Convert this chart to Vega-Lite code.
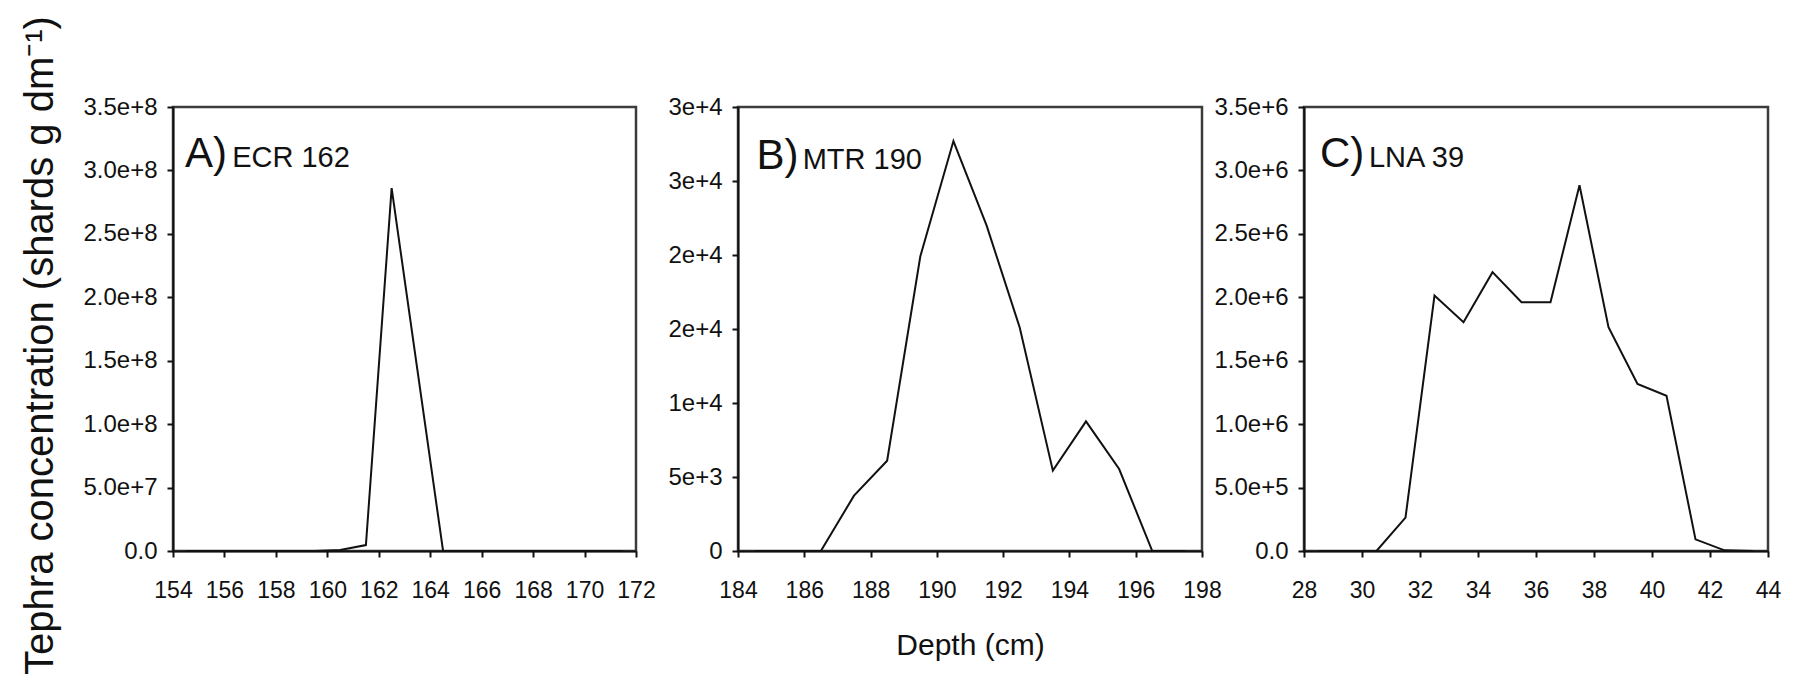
{
  "$schema": "https://vega.github.io/schema/vega-lite/v6.json",
  "background": "white",
  "padding": {"left": 18, "top": 14, "right": 6, "bottom": 4},
  "bounds": "flush",
  "spacing": 102,
  "config": {
    "font": "Liberation Sans, Arial, sans-serif",
    "view": {"stroke": "#3c3c3c", "strokeWidth": 2.5},
    "axis": {
      "grid": false,
      "domainColor": "#111111",
      "domainWidth": 2,
      "tickColor": "#111111",
      "tickWidth": 2,
      "tickSize": 6,
      "labelFont": "Liberation Sans, Arial, sans-serif",
      "labelColor": "#111111",
      "labelFlush": false,
      "labelOverlap": false,
      "titleFont": "Liberation Sans, Arial, sans-serif",
      "titleColor": "#111111",
      "titleFontWeight": "normal"
    },
    "axisX": {"labelPadding": 22, "labelFontSize": 23},
    "axisY": {"labelPadding": 10, "labelFontSize": 24}
  },
  "hconcat": [
    {
      "width": 463,
      "height": 444,
      "data": {"values": [
        {"depth": 154.5, "conc": 0}, {"depth": 155.5, "conc": 0}, {"depth": 156.5, "conc": 0},
        {"depth": 157.5, "conc": 0}, {"depth": 158.5, "conc": 0}, {"depth": 159.5, "conc": 0},
        {"depth": 160.5, "conc": 800000}, {"depth": 161.5, "conc": 4700000},
        {"depth": 162.5, "conc": 286000000}, {"depth": 163.5, "conc": 143000000},
        {"depth": 164.5, "conc": 0}, {"depth": 165.5, "conc": 0}, {"depth": 166.5, "conc": 0},
        {"depth": 167.5, "conc": 0}, {"depth": 168.5, "conc": 0}, {"depth": 169.5, "conc": 0},
        {"depth": 170.5, "conc": 0}, {"depth": 171.5, "conc": 0}
      ]},
      "layer": [
        {
          "mark": {"type": "line", "color": "#111111", "strokeWidth": 2},
          "encoding": {
            "x": {"field": "depth", "type": "quantitative",
                  "scale": {"domain": [154, 172], "nice": false, "zero": false},
                  "axis": {"title": null, "values": [154, 156, 158, 160, 162, 164, 166, 168, 170, 172]}},
            "y": {"field": "conc", "type": "quantitative",
                  "scale": {"domain": [0, 350000000], "nice": false},
                  "axis": {
                    "values": [0, 50000000, 100000000, 150000000, 200000000, 250000000, 300000000, 350000000],
                    "labelExpr": "datum.value === 0 ? '0.0' : format(datum.value, '.1e')",
                    "title": "Tephra concentration (shards g dm⁻¹)",
                    "titleFontSize": 40,
                    "titleAngle": -90,
                    "titleAlign": "center",
                    "titleBaseline": "alphabetic",
                    "titleX": -121,
                    "titleY": 238
                  }}
          }
        },
        {
          "data": {"values": [{"t": "A)"}]},
          "mark": {"type": "text", "align": "left", "baseline": "alphabetic", "fontSize": 42, "color": "#111111"},
          "encoding": {"x": {"datum": 154.47, "type": "quantitative"}, "y": {"datum": 303000000, "type": "quantitative"}, "text": {"field": "t"}}
        },
        {
          "data": {"values": [{"t": "ECR 162"}]},
          "mark": {"type": "text", "align": "left", "baseline": "alphabetic", "fontSize": 29, "color": "#111111"},
          "encoding": {"x": {"datum": 156.3, "type": "quantitative"}, "y": {"datum": 303000000, "type": "quantitative"}, "text": {"field": "t"}}
        }
      ]
    },
    {
      "width": 464,
      "height": 444,
      "data": {"values": [
        {"depth": 184.5, "conc": 0}, {"depth": 185.5, "conc": 0}, {"depth": 186.5, "conc": 0},
        {"depth": 187.5, "conc": 3740}, {"depth": 188.5, "conc": 6100}, {"depth": 189.5, "conc": 19900},
        {"depth": 190.5, "conc": 27700}, {"depth": 191.5, "conc": 22000}, {"depth": 192.5, "conc": 15100},
        {"depth": 193.5, "conc": 5430}, {"depth": 194.5, "conc": 8760}, {"depth": 195.5, "conc": 5540},
        {"depth": 196.5, "conc": 0}, {"depth": 197.5, "conc": 0}
      ]},
      "layer": [
        {
          "mark": {"type": "line", "color": "#111111", "strokeWidth": 2},
          "encoding": {
            "x": {"field": "depth", "type": "quantitative",
                  "scale": {"domain": [184, 198], "nice": false, "zero": false},
                  "axis": {"title": "Depth (cm)", "titleFontSize": 30, "titlePadding": 28,
                           "values": [184, 186, 188, 190, 192, 194, 196, 198]}},
            "y": {"field": "conc", "type": "quantitative",
                  "scale": {"domain": [0, 30000], "nice": false},
                  "axis": {
                    "title": null,
                    "values": [0, 5000, 10000, 15000, 20000, 25000, 30000],
                    "labelExpr": "datum.value === 0 ? '0' : format(datum.value, '.0e')"
                  }}
          }
        },
        {
          "data": {"values": [{"t": "B)"}]},
          "mark": {"type": "text", "align": "left", "baseline": "alphabetic", "fontSize": 42, "color": "#111111"},
          "encoding": {"x": {"datum": 184.56, "type": "quantitative"}, "y": {"datum": 25800, "type": "quantitative"}, "text": {"field": "t"}}
        },
        {
          "data": {"values": [{"t": "MTR 190"}]},
          "mark": {"type": "text", "align": "left", "baseline": "alphabetic", "fontSize": 29, "color": "#111111"},
          "encoding": {"x": {"datum": 185.95, "type": "quantitative"}, "y": {"datum": 25800, "type": "quantitative"}, "text": {"field": "t"}}
        }
      ]
    },
    {
      "width": 464,
      "height": 444,
      "data": {"values": [
        {"depth": 28.5, "conc": 0}, {"depth": 29.5, "conc": 0}, {"depth": 30.5, "conc": 0},
        {"depth": 31.5, "conc": 263000}, {"depth": 32.5, "conc": 2014000}, {"depth": 33.5, "conc": 1803000},
        {"depth": 34.5, "conc": 2198000}, {"depth": 35.5, "conc": 1961000}, {"depth": 36.5, "conc": 1961000},
        {"depth": 37.5, "conc": 2883000}, {"depth": 38.5, "conc": 1764000}, {"depth": 39.5, "conc": 1317000},
        {"depth": 40.5, "conc": 1224000}, {"depth": 41.5, "conc": 92000}, {"depth": 42.5, "conc": 5000},
        {"depth": 43.5, "conc": 0}
      ]},
      "layer": [
        {
          "mark": {"type": "line", "color": "#111111", "strokeWidth": 2},
          "encoding": {
            "x": {"field": "depth", "type": "quantitative",
                  "scale": {"domain": [28, 44], "nice": false, "zero": false},
                  "axis": {"title": null, "values": [28, 30, 32, 34, 36, 38, 40, 42, 44]}},
            "y": {"field": "conc", "type": "quantitative",
                  "scale": {"domain": [0, 3500000], "nice": false},
                  "axis": {
                    "title": null,
                    "values": [0, 500000, 1000000, 1500000, 2000000, 2500000, 3000000, 3500000],
                    "labelExpr": "datum.value === 0 ? '0.0' : format(datum.value, '.1e')"
                  }}
          }
        },
        {
          "data": {"values": [{"t": "C)"}]},
          "mark": {"type": "text", "align": "left", "baseline": "alphabetic", "fontSize": 42, "color": "#111111"},
          "encoding": {"x": {"datum": 28.55, "type": "quantitative"}, "y": {"datum": 3030000, "type": "quantitative"}, "text": {"field": "t"}}
        },
        {
          "data": {"values": [{"t": "LNA 39"}]},
          "mark": {"type": "text", "align": "left", "baseline": "alphabetic", "fontSize": 29, "color": "#111111"},
          "encoding": {"x": {"datum": 30.24, "type": "quantitative"}, "y": {"datum": 3030000, "type": "quantitative"}, "text": {"field": "t"}}
        }
      ]
    }
  ]
}
